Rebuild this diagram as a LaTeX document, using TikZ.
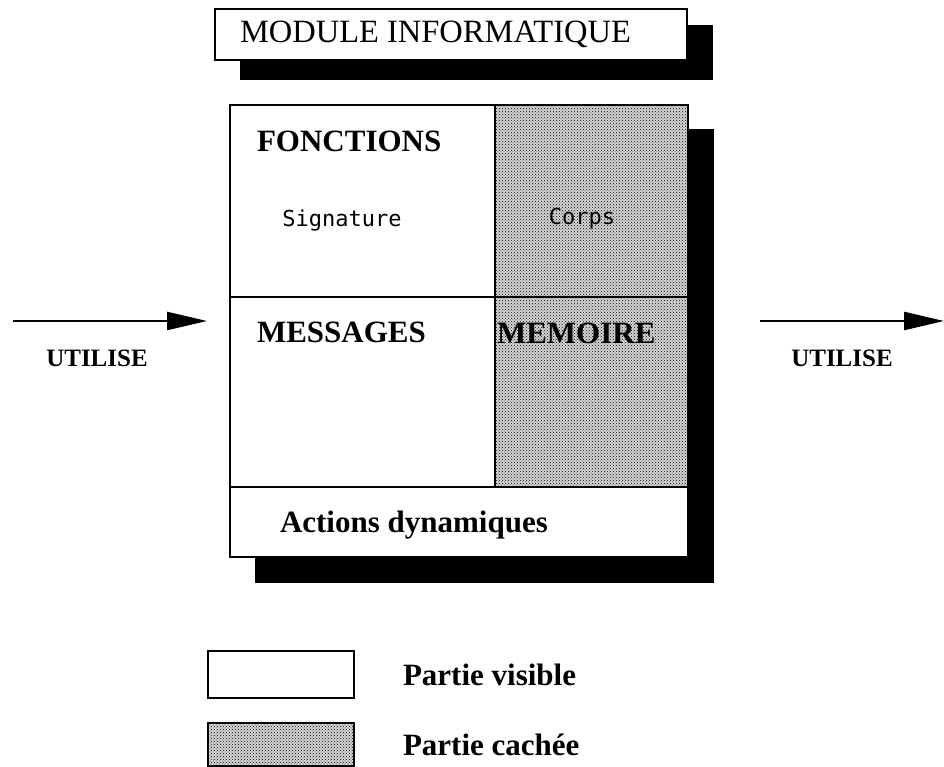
\documentclass[tikz,border=0pt]{standalone}
\usepackage{fontspec}
\setmainfont{Liberation Serif}
\newfontfamily\monaco{DejaVu Sans Mono}
\usetikzlibrary{arrows.meta,positioning,patterns,backgrounds}

\begin{document}
\begin{tikzpicture}[x=1pt,y=-1pt,>={Triangle[length=40pt,width=18pt]},line width=2.5pt,
	every node/.style={inner sep=0pt,outer sep=0pt},
	box/.style={draw,fill=white},
	hidden/.style={draw,preaction={fill=black!16},pattern=crosshatch dots},
	head/.style={font=\fontsize{31}{36}\selectfont\bfseries},
	soft/.style={font=\monaco\fontsize{22}{26}\selectfont},
	uses/.style={font=\fontsize{25}{30}\selectfont\bfseries}]

\useasboundingbox (0,0) rectangle (944,767);

\node[box,anchor=north west,minimum width=472pt,minimum height=51pt] (title) at (215,9) {};
 \node[anchor=base west,font=\fontsize{32.5}{38}\selectfont] (titletxt) at (240,43) {MODULE INFORMATIQUE};

\node[box,anchor=north west,minimum width=265pt,minimum height=192pt]   (fonc)   at (230,105) {};
	\node[hidden,minimum width=193pt,minimum height=192pt] (corps) [right=0pt of fonc] {};
	\node[box,minimum width=265pt,minimum height=190pt] (mess) [below=0pt of fonc] {};
	\node[hidden,minimum width=193pt,minimum height=190pt] (mem) [right=0pt of mess] {};
	\node[box,minimum width=458pt,minimum height=70pt] (actions) [below=0pt of mess.south west,anchor=north west] {};

\node[head,anchor=base west] (fonctxt) at (257,152) {FONCTIONS};
	\node[soft,anchor=base] (sig) at (342,227) {Signature};
	\node[soft,anchor=base] (body) at (582,225) {Corps};
	\node[head,anchor=base west] (messtxt) at (257,342) {MESSAGES};
	\node[head,anchor=base west] (memtxt) at (497,343) {MEMOIRE};
	\node[head,anchor=base west] (acttxt) at (280,532) {Actions dynamiques};

\begin{scope}[on background layer]
	\fill ([xshift=25pt,yshift=-16pt]title.north west) rectangle ([xshift=26pt,yshift=-20pt]title.south east);
	\fill ([xshift=25pt,yshift=-24pt]fonc.north west) rectangle ([xshift=26pt,yshift=-26pt]actions.south east);
\end{scope}

\coordinate (inL) at (13,321);
 \coordinate (outL) at (760,321);
	\coordinate (outR) at (944,321);

\draw[->,shorten >=23pt] (inL) -- (inL -| fonc.west);
	\draw[->] (outL) -- (outR);

\node[uses,anchor=base] (useL) at (97,366) {UTILISE};
	\node[uses,anchor=base] (useR) at (842,366) {UTILISE};

\node[box,anchor=north west,minimum width=146pt,minimum height=47pt] (legvis) at (208,651) {};
	\node[hidden,minimum width=146pt,minimum height=43pt] (leghid) [below=25pt of legvis] {};
	\node[head] (vistxt) [right=49pt of legvis] {Partie visible};
	\node[head] (hidtxt) [right=49pt of leghid] {Partie cachée};

\end{tikzpicture}
\end{document}
